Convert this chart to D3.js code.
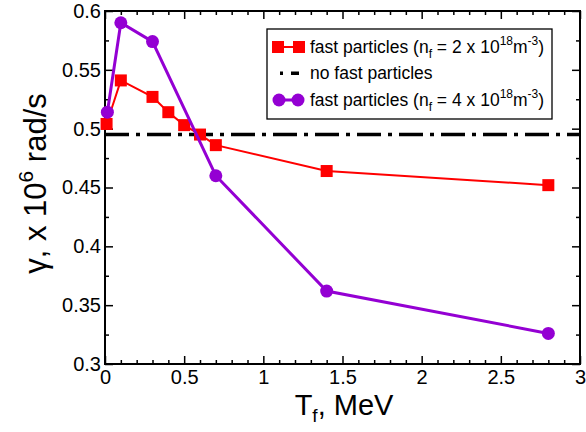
<!DOCTYPE html>
<html>
<head>
<meta charset="utf-8">
<script src="https://cdn.jsdelivr.net/npm/d3@7"></script>
<style>
  html, body { margin: 0; padding: 0; background: #fff; }
  svg { display: block; font-family: "Liberation Sans", Arial, sans-serif; }
</style>
</head>
<body>
<svg id="chart" width="586" height="432"></svg>
<script>
// ---- data ----
const xTickValues = [0, 0.5, 1, 1.5, 2, 2.5, 3];
const xTickLabels = ["0", "0.5", "1", "1.5", "2", "2.5", "3"];
const yTickValues = [0.3, 0.35, 0.4, 0.45, 0.5, 0.55, 0.6];
const yTickLabels = ["0.3", "0.35", "0.4", "0.45", "0.5", "0.55", "0.6"];
const tfRed = [0.01, 0.1, 0.3, 0.4, 0.5, 0.6, 0.7, 1.4, 2.8];
const gammaRed = [0.504, 0.541, 0.527, 0.514, 0.503, 0.495, 0.486, 0.464, 0.452];
const tfPurple = [0.015, 0.1, 0.3, 0.7, 1.4, 2.8];
const gammaPurple = [0.514, 0.590, 0.574, 0.460, 0.362, 0.326];
const gammaNoFast = [0.495, 0.495];
const tfNoFast = [0, 3];

// ---- layout ----
const svg = d3.select("#chart");
const L = 105, R = 580, T = 11, B = 364;
const FONT = "'Liberation Sans', Arial, sans-serif";
const x = d3.scaleLinear().domain([0, 3]).range([L, R]);
const y = d3.scaleLinear().domain([0.3, 0.6]).range([B, T]);
const red = "#ff0000", purple = "#9400d3";

const xMinor = d3.range(0, 3.0001, 0.1).map(v => +v.toFixed(2)).filter(v => !xTickValues.some(t => Math.abs(t - v) < 1e-6));
const yMinor = d3.range(0.3, 0.6001, 0.025).map(v => +v.toFixed(3)).filter(v => !yTickValues.some(t => Math.abs(t - v) < 1e-6));

function styleAxis(g) {
  g.select(".domain").remove();
  g.selectAll(".tick line").attr("stroke", "#000").attr("stroke-width", 1.5);
}
// bottom
svg.append("g").attr("transform", `translate(0,${B})`)
  .call(d3.axisBottom(x).tickValues(xTickValues).tickSize(-8).tickPadding(6)
    .tickFormat((d, i) => xTickLabels[i]))
  .call(styleAxis)
  .call(g => g.selectAll("text").attr("font-size", 20).attr("fill", "#000").attr("font-family", FONT));
svg.append("g").attr("transform", `translate(0,${B})`)
  .call(d3.axisBottom(x).tickValues(xMinor).tickSize(-4).tickFormat(""))
  .call(styleAxis);
// top
svg.append("g").attr("transform", `translate(0,${T})`)
  .call(d3.axisTop(x).tickValues(xTickValues).tickSize(-8).tickFormat(""))
  .call(styleAxis);
svg.append("g").attr("transform", `translate(0,${T})`)
  .call(d3.axisTop(x).tickValues(xMinor).tickSize(-4).tickFormat(""))
  .call(styleAxis);
// left
svg.append("g").attr("transform", `translate(${L},0)`)
  .call(d3.axisLeft(y).tickValues(yTickValues).tickSize(-8).tickPadding(4)
    .tickFormat((d, i) => yTickLabels[i]))
  .call(styleAxis)
  .call(g => g.selectAll("text").attr("font-size", 20).attr("fill", "#000").attr("font-family", FONT));
svg.append("g").attr("transform", `translate(${L},0)`)
  .call(d3.axisLeft(y).tickValues(yMinor).tickSize(-4).tickFormat(""))
  .call(styleAxis);
// right
svg.append("g").attr("transform", `translate(${R},0)`)
  .call(d3.axisRight(y).tickValues(yTickValues).tickSize(-8).tickFormat(""))
  .call(styleAxis);
svg.append("g").attr("transform", `translate(${R},0)`)
  .call(d3.axisRight(y).tickValues(yMinor).tickSize(-4).tickFormat(""))
  .call(styleAxis);

// frame
svg.append("rect").attr("x", L).attr("y", T).attr("width", R - L).attr("height", B - T)
  .attr("fill", "none").attr("stroke", "#000").attr("stroke-width", 2);

// no fast particles line
svg.append("line")
  .attr("x1", x(tfNoFast[0])).attr("x2", x(tfNoFast[1]))
  .attr("y1", y(gammaNoFast[0])).attr("y2", y(gammaNoFast[1]))
  .attr("stroke", "#000").attr("stroke-width", 3.5)
  .attr("stroke-dasharray", "24,7,4,7");

const line = d3.line().x(d => x(d[0])).y(d => y(d[1]));
const redData = tfRed.map((t, i) => [t, gammaRed[i]]);
const purpleData = tfPurple.map((t, i) => [t, gammaPurple[i]]);

svg.append("path").datum(redData).attr("d", line)
  .attr("fill", "none").attr("stroke", red).attr("stroke-width", 2);
svg.selectAll(".sq").data(redData).enter().append("rect")
  .attr("x", d => x(d[0]) - 6).attr("y", d => y(d[1]) - 6)
  .attr("width", 12).attr("height", 12).attr("fill", red);

svg.append("path").datum(purpleData).attr("d", line)
  .attr("fill", "none").attr("stroke", purple).attr("stroke-width", 3);
svg.selectAll(".ci").data(purpleData).enter().append("circle")
  .attr("cx", d => x(d[0])).attr("cy", d => y(d[1])).attr("r", 6.5)
  .attr("fill", purple);

// legend
const lg = svg.append("g");
lg.append("rect").attr("x", 267).attr("y", 29).attr("width", 285).attr("height", 90)
  .attr("fill", "#fff").attr("stroke", "#000").attr("stroke-width", 1.3);
const r1 = 47, r2 = 73, r3 = 100;
lg.append("line").attr("x1", 278).attr("x2", 299).attr("y1", r1).attr("y2", r1)
  .attr("stroke", red).attr("stroke-width", 2);
[278, 299].forEach(cx => lg.append("rect").attr("x", cx - 6).attr("y", r1 - 6)
  .attr("width", 12).attr("height", 12).attr("fill", red));
lg.append("rect").attr("x", 280).attr("y", r2 - 1.5).attr("width", 3).attr("height", 3.5).attr("fill", "#000");
lg.append("rect").attr("x", 291).attr("y", r2 - 1.5).attr("width", 8).attr("height", 3.5).attr("fill", "#000");
lg.append("line").attr("x1", 279).attr("x2", 298).attr("y1", r3).attr("y2", r3)
  .attr("stroke", purple).attr("stroke-width", 3);
[279, 298].forEach(cx => lg.append("circle").attr("cx", cx).attr("cy", r3).attr("r", 6.5)
  .attr("fill", purple));

function legendText(yb, n) {
  const t = lg.append("text").attr("x", 310).attr("y", yb).attr("font-size", 17.5).attr("fill", "#000");
  t.append("tspan").text("fast particles (n");
  t.append("tspan").attr("font-size", 12).attr("dy", 5).text("f");
  t.append("tspan").attr("dy", -5).text(` = ${n} x 10`);
  t.append("tspan").attr("font-size", 12).attr("dy", -8).text("18");
  t.append("tspan").attr("dy", 8).text("m");
  t.append("tspan").attr("font-size", 12).attr("dy", -8).text("-3");
  t.append("tspan").attr("dy", 8).text(")");
}
legendText(r1 + 6, 2);
lg.append("text").attr("x", 310).attr("y", r2 + 6).attr("font-size", 17.5).text("no fast particles");
legendText(r3 + 6, 4);

// axis titles
const xt = svg.append("text").attr("x", 344).attr("y", 415).attr("text-anchor", "middle")
  .attr("font-size", 29).attr("fill", "#000");
xt.append("tspan").text("T");
xt.append("tspan").attr("font-size", 19).attr("dy", 7).text("f");
xt.append("tspan").attr("dy", -7).text(", MeV");

const yt = svg.append("text").attr("transform", `translate(46,${(T + B) / 2 - 4}) rotate(-90)`)
  .attr("text-anchor", "middle").attr("font-size", 31).attr("fill", "#000");
yt.append("tspan").text("γ, x 10");
yt.append("tspan").attr("font-size", 21).attr("dy", -13).text("6");
yt.append("tspan").attr("dy", 13).text(" rad/s");
</script>
</body>
</html>
